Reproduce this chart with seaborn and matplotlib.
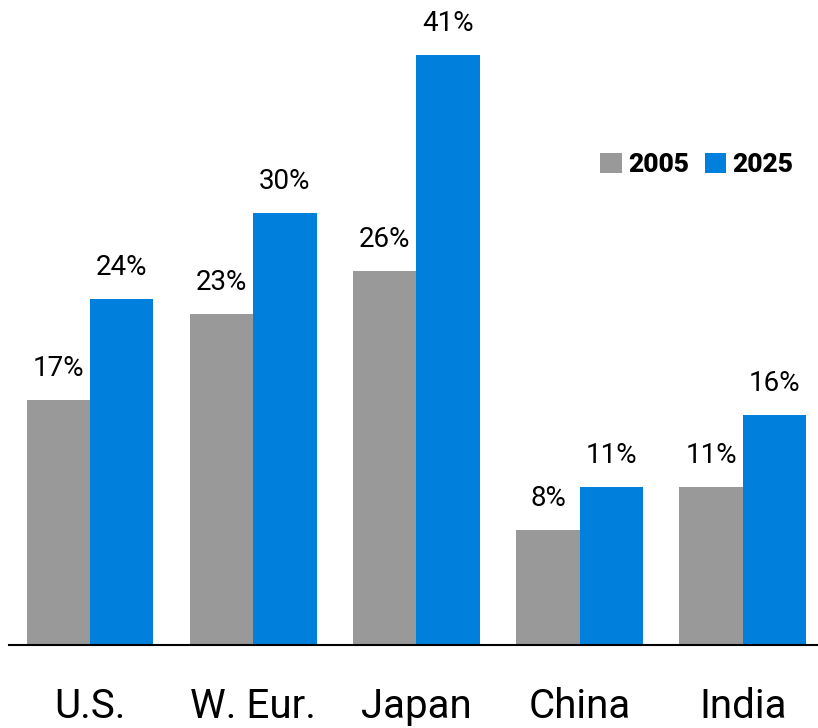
import pandas as pd
import matplotlib.pyplot as plt
import seaborn as sns

regions = ['U.S.', 'W. Eur.', 'Japan', 'China', 'India']
share_2005 = [17, 23, 26, 8, 11]
share_2025 = [24, 30, 41, 11, 16]
years = ['2005', '2025']

df = pd.DataFrame({
    'region': regions * 2,
    'year': [years[0]] * 5 + [years[1]] * 5,
    'share': share_2005 + share_2025,
})

sns.set_style('white')
plt.rcParams['font.family'] = ['Roboto', 'DejaVu Sans']
plt.rcParams['text.color'] = 'black'
plt.rcParams['xtick.color'] = 'black'

fig = plt.figure(figsize=(8.18, 7.28), dpi=100)
ax = fig.add_axes([9 / 818, 83 / 728, 1 - 9 / 818, 645 / 728])

sns.barplot(data=df, x='region', y='share', hue='year',
            palette=['#999999', '#0080DD'], width=0.775,
            saturation=1, linewidth=0, ax=ax, legend=True)

for c in ax.containers:
    ax.bar_label(c, labels=[f'{v:.0f}%' for v in c.datavalues],
                 padding=13, fontsize=20, color='black')

ax.set_ylim(0, 44.8)
ax.set_xlim(-0.498, 4.462)
ax.set_xlabel('')
ax.set_ylabel('')
ax.set_yticks([])
ax.tick_params(axis='x', length=0, labelsize=29, pad=30, labelcolor='black')
for s in ['top', 'right', 'left']:
    ax.spines[s].set_visible(False)
ax.spines['bottom'].set_color('black')
ax.spines['bottom'].set_linewidth(1.5)

leg = ax.legend(loc='upper left', bbox_to_anchor=(0.718, 0.779), ncol=2,
                frameon=False, handlelength=0.8, handleheight=0.8,
                handletextpad=0.25, columnspacing=0.6, borderaxespad=0,
                prop={'weight': 'black', 'size': 19})

fig.savefig('out.png', dpi=100)
